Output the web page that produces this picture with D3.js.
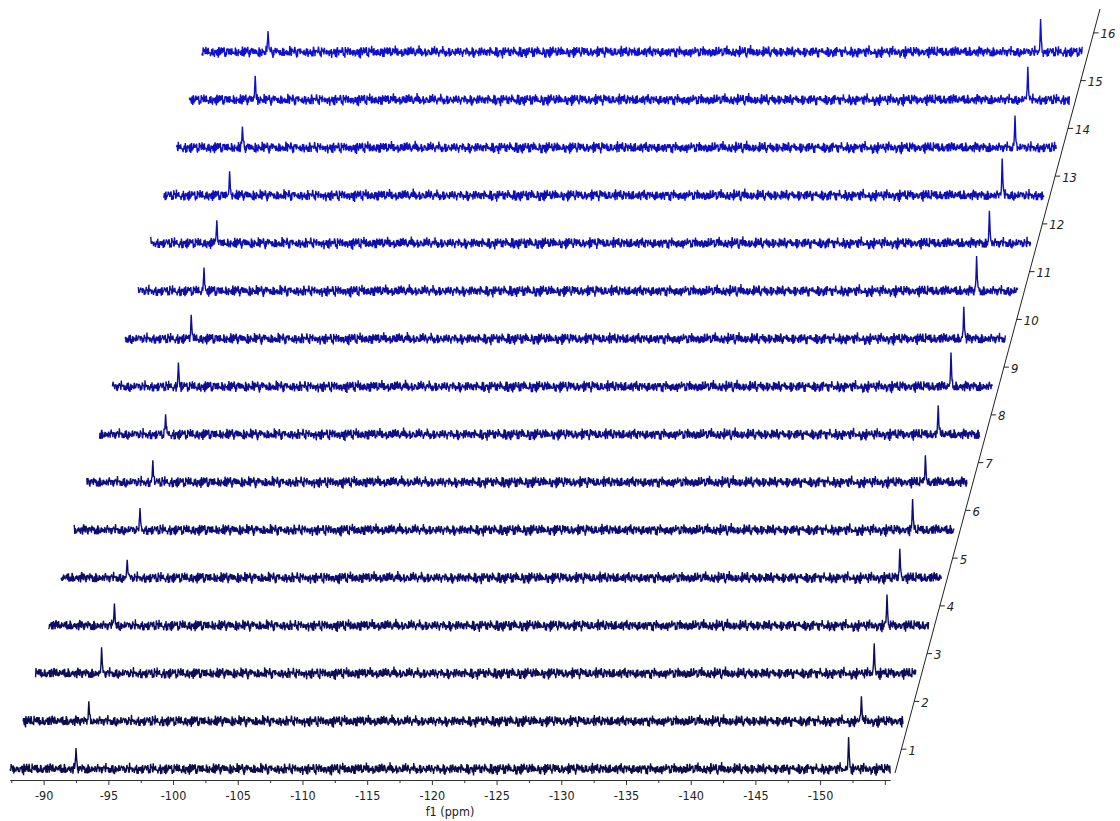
<!DOCTYPE html>
<html>
<head>
<meta charset="utf-8">
<script src="https://cdn.jsdelivr.net/npm/d3@7"></script>
<style>
  html, body { margin: 0; padding: 0; background: #fff; }
  svg { display: block; }
  .axis text, .zaxis text, .xtitle {
    font-family: "DejaVu Sans Condensed", "DejaVu Sans", sans-serif;
    font-size: 12.5px;
    fill: #222;
  }
  .zaxis text { font-style: italic; font-size: 13px; }
</style>
</head>
<body>
<svg id="chart" width="1120" height="821"></svg>
<script>
// ---- data -------------------------------------------------------------
// experiment numbers (one stacked spectrum each, front to back)
const experiments = [1, 2, 3, 4, 5, 6, 7, 8, 9, 10, 11, 12, 13, 14, 15, 16];

// chemical shifts of the two resonances (ppm)
const peakShifts = [-92.5, -152.2];

// peak intensities per experiment (arbitrary units)
const peakLowField  = [21, 20, 26, 22, 18, 22, 22, 20, 24, 24, 23.5, 23, 24, 21, 24, 21];
const peakHighField = [32, 25, 30, 31, 29, 31, 27, 29, 34, 32, 35, 32.5, 37, 32, 33, 33];

// normalised line shape sampled on the acquisition grid, centre at index 5
const lineShape = [0.03, 0.06, 0.12, 0.25, 0.6, 1, 0.7, 0.35, 0.18, 0.1, 0.05];

// baseline noise records (arbitrary units) and their rms scale
const noiseA = [1.2, -0.8, 2.1, -1.9, 0.4, -2.6, 1.7, 0.3, -1.1, 2.8, -0.5, -2.2, 1.0, 0.6, -3.4,
  1.9, -0.2, 2.4, -1.5, 0.9, -0.7, 3.1, -2.0, 0.1, 1.4, -2.9, 0.8, -1.3, 2.2, -0.4, 1.6, -2.4,
  0.5, -1.0, 3.6, -1.7, 0.2, -0.9, 2.0, -2.7, 1.1, -0.3, 1.8, -1.6, 0.7, -3.0, 2.5, -0.6, 1.3,
  -2.1, 0.0, 2.7, -1.2, 0.9, -2.5, 1.5, -0.1, -1.8, 2.3, -0.8, 1.0];
const noiseB = [0.6, -1.1, 0.3, 1.4, -0.5, -1.3, 0.9, 0.1, -0.8, 1.2, -1.5, 0.4, 0.8, -0.2, -1.0,
  1.1, -0.6, 0.5, 1.5, -1.2, 0.2, -0.4, 1.0, -0.9, 0.7, -1.4, 1.3, -0.1, 0.6, -0.7, 0.0, 1.2,
  -1.1, 0.3, -0.3, 0.9, -0.5];
const noiseLevel = 1.35;

// spectral window and digital resolution (ppm)
const ppmStart = -87.4;
const ppmEnd = -155.4;
const ppmStep = 0.03;

// axis ticks
const ppmTicks = [-90, -95, -100, -105, -110, -115, -120, -125, -130, -135, -140, -145, -150, -155];
const ppmTickLabels = ["-90", "-95", "-100", "-105", "-110", "-115", "-120", "-125", "-130",
  "-135", "-140", "-145", "-150", ""];
const ppmMinorTicks = [-87.5, -92.5, -97.5, -102.5, -107.5, -112.5, -117.5, -122.5, -127.5,
  -132.5, -137.5, -142.5, -147.5, -152.5];

// ---- scales -----------------------------------------------------------
const svg = d3.select("#chart");

const x = d3.scaleLinear().domain([ppmStart, ppmEnd]).range([10, 890]);
const shiftX = d3.scaleLinear().domain([1, 16]).range([0, 192]);      // oblique depth offset
const baseY = d3.scaleLinear().domain([1, 16]).range([769, 52]);      // baseline of each row
const amp = d3.scaleLinear().domain([0, 40]).range([0, -40]);         // intensity to height
const color = d3.scaleLinear().domain([1, 16]).range(["#0c0c48", "#1010d2"]);

// depth axis drawn along the oblique direction
const zx = d3.scaleLinear().domain([0.5, 16.5]).range([895, 1100]);
const zy = d3.scaleLinear().domain([0.5, 16.5]).range([773, 9]);

// ---- build spectra ----------------------------------------------------
const nPts = Math.round((ppmStart - ppmEnd) / ppmStep) + 1;

function spectrum(k) {
  const idx = k - 1;
  const vals = new Array(nPts);
  const shape = new Float64Array(nPts);
  const heights = [peakLowField[idx], peakHighField[idx]];
  peakShifts.forEach((c, p) => {
    const ci = Math.round((ppmStart - c) / ppmStep);
    lineShape.forEach((s, j) => {
      const i = ci + j - 5;
      if (i >= 0 && i < nPts) shape[i] += heights[p] * s;
    });
  });
  for (let i = 0; i < nPts; i++) {
    const nz = noiseLevel *
      (noiseA[(i * 7 + k * 13) % noiseA.length] + noiseB[(i * 5 + k * 29) % noiseB.length]);
    const rel = Math.min(1, shape[i] / 15);
    vals[i] = [ppmStart - i * ppmStep, shape[i] + nz * (1 - rel)];
  }
  return vals;
}

const traces = svg.append("g").attr("class", "traces");

experiments.slice().reverse().forEach(k => {
  const line = d3.line()
    .x(d => x(d[0]) + shiftX(k))
    .y(d => baseY(k) + amp(d[1]));
  traces.append("path")
    .datum(spectrum(k))
    .attr("d", line)
    .attr("fill", "none")
    .attr("stroke", color(k))
    .attr("stroke-width", 1.4)
    .attr("stroke-linejoin", "bevel");
});

// ---- ppm axis ---------------------------------------------------------
const axisY = 780;

svg.append("g")
  .attr("class", "axis")
  .attr("transform", `translate(0,${axisY})`)
  .call(d3.axisBottom(x).tickValues(ppmMinorTicks).tickSize(3).tickSizeOuter(0).tickFormat(""))
  .call(g => g.selectAll("line, path").attr("stroke", "#333"));

svg.append("g")
  .attr("class", "axis")
  .attr("transform", `translate(0,${axisY})`)
  .call(d3.axisBottom(x).tickValues(ppmTicks).tickSize(5).tickSizeOuter(0).tickPadding(6)
    .tickFormat((d, i) => ppmTickLabels[i]))
  .call(g => g.selectAll("line, path").attr("stroke", "#333"));

svg.append("text")
  .attr("class", "xtitle")
  .attr("x", (x.range()[0] + x.range()[1]) / 2)
  .attr("y", 816)
  .attr("text-anchor", "middle")
  .text("f1 (ppm)");

// ---- experiment axis --------------------------------------------------
const zaxis = svg.append("g").attr("class", "zaxis");

zaxis.append("line")
  .attr("x1", zx(0.5)).attr("y1", zy(0.5))
  .attr("x2", zx(16.5)).attr("y2", zy(16.5))
  .attr("stroke", "#222").attr("stroke-width", 1);

const zt = zaxis.selectAll("g.tick")
  .data(experiments)
  .join("g")
  .attr("class", "tick")
  .attr("transform", d => `translate(${zx(d)},${zy(d)})`);

zt.append("line")
  .attr("x1", 0).attr("x2", 5)
  .attr("stroke", "#222").attr("stroke-width", 1);

zt.append("text")
  .attr("x", 7)
  .attr("y", 1)
  .attr("dy", "0.35em")
  .text(d => d);
</script>
</body>
</html>
